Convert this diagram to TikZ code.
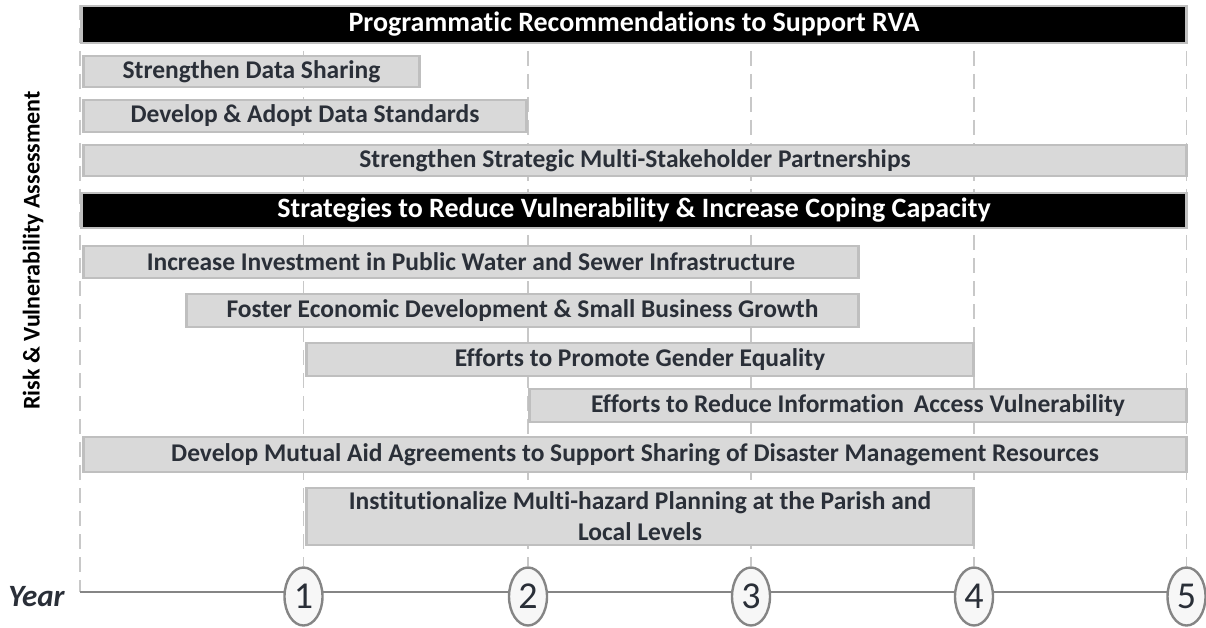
\documentclass[tikz,border=0pt]{standalone}
\usepackage{fontspec}
\setmainfont{Carlito}[Ligatures={NoCommon}]
\usetikzlibrary{shapes.geometric,backgrounds}
\definecolor{barfill}{HTML}{D9D9D9}
\definecolor{barline}{HTML}{BFBFBF}
\definecolor{bartext}{HTML}{2A2F38}
\definecolor{gridc}{HTML}{C8C8C8}
\definecolor{axisc}{HTML}{858585}
\definecolor{circfill}{HTML}{F7F7F7}
\tikzset{
  bar/.style={draw=barline, fill=barfill, line width=2.6pt, inner sep=0pt,
    text=bartext, font=\fontsize{25.5}{31}\selectfont\bfseries, align=center},
  headbar/.style={draw=barline, fill=black, line width=2.6pt, inner sep=0pt,
    text=white, font=\fontsize{28}{30}\selectfont\bfseries},
  gridline/.style={draw=gridc, line width=1.8pt, dash pattern=on 15pt off 8pt},
  axisline/.style={draw=axisc, line width=2.6pt},
  yearcirc/.style={ellipse, draw=axisc, fill=circfill, line width=2.4pt,
    minimum width=38pt, minimum height=58pt, inner sep=0pt,
    text=bartext, font=\fontsize{38}{40}\selectfont},
}
\begin{document}
\begin{tikzpicture}[x=1pt,y=-1pt]
\useasboundingbox (0,0) rectangle (1206,628);
% year markers
\node[yearcirc] (c1) at (303.5,596.5) {1};
\node[yearcirc] (c2) at (528,596.5) {2};
\node[yearcirc] (c3) at (751,596.5) {3};
\node[yearcirc] (c4) at (974,596.5) {4};
\node[yearcirc] (c5) at (1186.5,596.5) {5};
\coordinate (g0t) at (80,5);
\coordinate (g0b) at (80,592);
\foreach \n in {1,...,5}{ \coordinate (g\n t) at (c\n.center |- g0t); }
\begin{scope}[on background layer]
  \draw[gridline] (g0t) -- (g0b);
  \foreach \n in {1,...,5}{ \draw[gridline] (g\n t) -- (c\n.north); }
  \draw[axisline] (g0b) -- (g0b -| c5.center);
\end{scope}
% bars
\node[headbar, minimum width=1105pt, minimum height=37pt] (t1) at (634,24.5) {Programmatic Recommendations to Support RVA};
\node[bar, minimum width=336pt, minimum height=31pt] (b1) at (251.5,71.5) {Strengthen Data Sharing};
\node[bar, minimum width=443pt, minimum height=32pt] (b2) at (305,116) {Develop \& Adopt Data Standards};
\node[bar, minimum width=1103pt, minimum height=31pt] (b3) at (635,160.5) {Strengthen Strategic Multi-Stakeholder Partnerships};
\node[headbar, minimum width=1105pt, minimum height=35pt] (t2) at (634,210.5) {Strategies to Reduce Vulnerability \& Increase Coping Capacity};
\node[bar, minimum width=775pt, minimum height=32pt] (b4) at (471,262) {Increase Investment in Public Water and Sewer Infrastructure};
\node[bar, minimum width=672pt, minimum height=33pt] (b5) at (522.5,310.5) {Foster Economic Development \& Small Business Growth};
\node[bar, minimum width=667pt, minimum height=33pt] (b6) at (640,359.5) {Efforts to Promote Gender Equality};
\node[bar, minimum width=657pt, minimum height=33pt] (b7) at (858,405.5) {Efforts to Reduce Information\hspace{4pt} Access Vulnerability};
\node[bar, minimum width=1103pt, minimum height=35pt] (b8) at (635,454.5) {Develop Mutual Aid Agreements to Support Sharing of Disaster Management Resources};
\node[bar, minimum width=667pt, minimum height=57pt] (b9) at (640,516.5) {Institutionalize Multi-hazard Planning at the Parish and\\Local Levels};
% labels
\node[rotate=90, font=\fontsize{24}{26}\selectfont\bfseries, text=black, inner sep=0pt] (ylab) at (33,250.5) {Risk \& Vulnerability Assessment};
\node[font=\fontsize{31}{33}\selectfont\bfseries\itshape, text=bartext, inner sep=0pt] (year) at (36.5,597) {Year};
\end{tikzpicture}
\end{document}
